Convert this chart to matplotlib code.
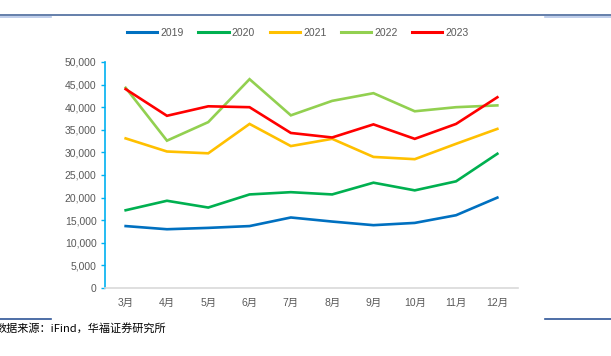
import matplotlib
matplotlib.use("Agg")
import matplotlib.pyplot as plt
from matplotlib.lines import Line2D

plt.rcParams["font.family"] = ["Liberation Sans", "Noto Sans CJK SC", "DejaVu Sans"]

# ── Data ─────────────────────────────────────────────────────────────────────
months = ["3月", "4月", "5月", "6月", "7月", "8月", "9月", "10月", "11月", "12月"]

y2019 = [13700, 13000, 13300, 13700, 15600, 14700, 13900, 14400, 16100, 20000]
y2020 = [17200, 19300, 17800, 20700, 21200, 20700, 23300, 21600, 23600, 29700]
y2021 = [33100, 30200, 29800, 36300, 31400, 33000, 29000, 28500, 31900, 35200]
y2022 = [44300, 32600, 36700, 46200, 38200, 41400, 43100, 39100, 40000, 40400]
y2023 = [44000, 38100, 40200, 40000, 34300, 33300, 36200, 33000, 36300, 42200]

series = [
    ("2019", y2019, "#0070C0"),
    ("2020", y2020, "#00B050"),
    ("2021", y2021, "#FFC000"),
    ("2022", y2022, "#92D050"),
    ("2023", y2023, "#FF0000"),
]

W, H = 611, 356
fig = plt.figure(figsize=(W / 100, H / 100), dpi=100)

# axes placed in pixel terms
left, right, top, bottom = 105, 518, 62, 288
ax = fig.add_axes([left / W, 1 - bottom / H, (right - left) / W, (bottom - top) / H])

x = list(range(len(months)))
for name, vals, col in series:
    ax.plot(x, vals, color=col, lw=1.9, label=name, solid_joinstyle="miter")

ax.set_xlim(-0.5, len(months) - 0.5)
ax.set_ylim(0, 50000)
ax.set_yticks(range(0, 50001, 5000))
ax.set_yticklabels([f"{v:,}" for v in range(0, 50001, 5000)])
ax.set_xticks(x)
ax.set_xticklabels(months)

ax.tick_params(axis="y", direction="out", length=3, width=1, color="#00B0F0",
               labelsize=7.5, labelcolor="#595959", pad=3)
ax.tick_params(axis="x", length=0, labelsize=7.5, labelcolor="#595959", pad=7)

for s in ("top", "right"):
    ax.spines[s].set_visible(False)
ax.spines["left"].set_color("#00B0F0")
ax.spines["left"].set_linewidth(1.2)
ax.spines["bottom"].set_color("#D9D9D9")
ax.spines["bottom"].set_linewidth(1.2)

# legend
handles = [Line2D([], [], color=c, lw=2.2) for _, _, c in series]
fig.legend(handles, [n for n, _, _ in series], loc="center", ncol=5,
           bbox_to_anchor=(298 / W, 1 - 33 / H), frameon=False,
           fontsize=7.5, labelcolor="#595959", handlelength=2.9,
           handletextpad=0.3, columnspacing=1.4)

# decorative frame lines (report template)
fig.add_artist(Line2D([0, 1], [1 - 15 / H] * 2, color="#4A6A9C", lw=1.2,
                      transform=fig.transFigure))
for x0, x1 in ((0, 51), (545, 611)):
    fig.add_artist(Line2D([x0 / W, x1 / W], [1 - 17 / H] * 2, color="#B4C6E7",
                          lw=1.2, transform=fig.transFigure))
    fig.add_artist(Line2D([x0 / W, x1 / W], [1 - 319 / H] * 2, color="#2F5597",
                          lw=1.2, transform=fig.transFigure))

fig.text(-4 / W, 1 - 328 / H, "数据来源：iFind，华福证券研究所", fontsize=8,
         color="#000000", ha="left", va="center",
         family=["Noto Sans CJK SC", "DejaVu Sans"])

fig.savefig("out.png", dpi=100)
